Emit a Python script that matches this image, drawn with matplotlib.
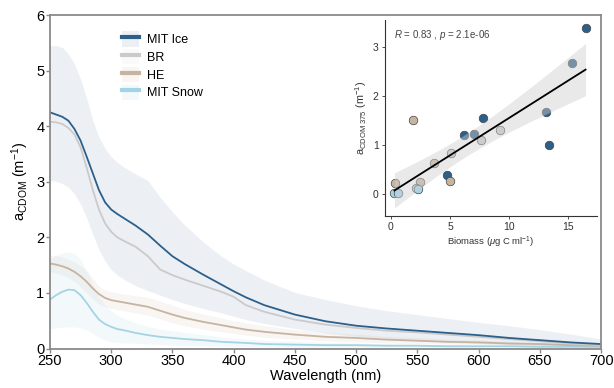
import numpy as np
import matplotlib
matplotlib.use("Agg")
import matplotlib.pyplot as plt
from matplotlib.patches import Patch
from matplotlib.lines import Line2D

plt.rcParams['font.family'] = ['Liberation Sans', 'DejaVu Sans']
plt.rcParams['mathtext.fontset'] = 'custom'
plt.rcParams['mathtext.rm'] = 'Liberation Sans'
plt.rcParams['mathtext.it'] = 'Liberation Sans:italic'

# ---- spectra (mean and ribbon) ----
wl = [250, 255, 260, 265, 270, 275, 280, 285, 290, 295, 300, 305, 310,
      320, 330, 340, 350, 360, 375, 390, 400, 410, 425, 450, 475, 500, 525, 550, 575, 600, 625, 650, 675, 700]

ice = [4.25, 4.21, 4.17, 4.10, 3.95, 3.74, 3.45, 3.15, 2.85, 2.63, 2.50, 2.42, 2.35,
       2.21, 2.05, 1.85, 1.66, 1.52, 1.33, 1.15, 1.03, 0.92, 0.78, 0.61, 0.49, 0.41, 0.36, 0.32, 0.28, 0.24, 0.19, 0.15, 0.11, 0.08]
ice_hi = [5.45, 5.45, 5.42, 5.30, 5.12, 4.85, 4.50, 4.10, 3.80, 3.60, 3.45, 3.35, 3.27,
          3.14, 3.02, 2.72, 2.46, 2.22, 1.92, 1.66, 1.52, 1.40, 1.23, 1.01, 0.88, 0.77, 0.68, 0.61, 0.54, 0.47, 0.41, 0.34, 0.26, 0.17]
ice_lo = [3.03, 3.01, 2.97, 2.90, 2.78, 2.60, 2.35, 2.05, 1.78, 1.57, 1.42, 1.32, 1.25,
          1.13, 1.04, 0.96, 0.88, 0.81, 0.72, 0.64, 0.58, 0.52, 0.45, 0.36, 0.28, 0.22, 0.18, 0.14, 0.11, 0.09, 0.07, 0.05, 0.03, 0.02]

br = [4.08, 4.07, 4.04, 3.97, 3.85, 3.62, 3.25, 2.85, 2.50, 2.25, 2.10, 2.00, 1.94,
      1.83, 1.66, 1.42, 1.32, 1.24, 1.13, 1.02, 0.93, 0.78, 0.66, 0.52, 0.43, 0.37, 0.32, 0.29, 0.25, 0.21, 0.17, 0.13, 0.09, 0.06]

he = [1.53, 1.51, 1.48, 1.44, 1.38, 1.30, 1.20, 1.08, 0.98, 0.91, 0.87, 0.85, 0.83,
      0.79, 0.75, 0.68, 0.61, 0.55, 0.48, 0.42, 0.38, 0.34, 0.30, 0.25, 0.21, 0.19, 0.16, 0.14, 0.12, 0.11, 0.09, 0.08, 0.06, 0.05]
he_hi = [1.68, 1.67, 1.65, 1.61, 1.56, 1.49, 1.40, 1.26, 1.12, 1.05, 1.02, 1.00, 0.98,
         0.95, 0.92, 0.85, 0.78, 0.70, 0.62, 0.55, 0.50, 0.46, 0.41, 0.34, 0.29, 0.26, 0.22, 0.20, 0.17, 0.15, 0.13, 0.11, 0.09, 0.07]
he_lo = [1.38, 1.35, 1.32, 1.27, 1.20, 1.11, 1.00, 0.89, 0.80, 0.75, 0.72, 0.70, 0.68,
         0.64, 0.60, 0.53, 0.46, 0.41, 0.35, 0.30, 0.27, 0.24, 0.20, 0.17, 0.14, 0.12, 0.10, 0.09, 0.08, 0.07, 0.06, 0.05, 0.04, 0.03]

snow = [0.88, 0.96, 1.02, 1.06, 1.05, 0.96, 0.82, 0.66, 0.52, 0.44, 0.39, 0.35, 0.33,
        0.28, 0.24, 0.21, 0.19, 0.17, 0.15, 0.12, 0.11, 0.10, 0.08, 0.07, 0.06, 0.06, 0.05, 0.05, 0.04, 0.04, 0.04, 0.03, 0.03, 0.03]
snow_hi = [1.62, 1.68, 1.72, 1.74, 1.72, 1.60, 1.40, 1.15, 0.92, 0.78, 0.68, 0.60, 0.55,
           0.46, 0.40, 0.35, 0.32, 0.29, 0.25, 0.21, 0.19, 0.17, 0.15, 0.13, 0.11, 0.10, 0.09, 0.08, 0.07, 0.07, 0.06, 0.06, 0.05, 0.05]
snow_lo = [0.35, 0.37, 0.38, 0.39, 0.39, 0.37, 0.33, 0.27, 0.20, 0.15, 0.12, 0.11, 0.10,
           0.09, 0.08, 0.07, 0.06, 0.05, 0.05, 0.04, 0.04, 0.03, 0.03, 0.02, 0.02, 0.02, 0.02, 0.02, 0.02, 0.02, 0.02, 0.02, 0.02, 0.02]

# ---- inset scatter: biomass vs aCDOM375 ----
ice_bio = [16.45, 13.33, 7.76, 6.19, 4.72, 15.27, 13.08, 7.03]
ice_a = [3.39, 1.01, 1.56, 1.20, 0.40, 2.66, 1.68, 1.22]
br_bio = [9.22, 7.62, 5.06]
br_a = [1.31, 1.10, 0.85]
he_bio = [5.00, 3.65, 1.83, 0.31, 2.47]
he_a = [0.28, 0.63, 1.51, 0.24, 0.25]
snow_bio = [2.10, 2.30, 0.30, 0.58]
snow_a = [0.14, 0.12, 0.03, 0.02]

c_ice, c_br, c_he, c_snow = '#2D5F8B', '#CACACA', '#C6B4A2', '#A3D4E5'

fig = plt.figure(figsize=(6.14, 3.88), dpi=100)
ax = fig.add_axes([0.0814, 0.1018, 0.8976, 0.8594])

ax.fill_between(wl, ice_lo, ice_hi, color=c_ice, alpha=0.09, lw=0)
ax.fill_between(wl, he_lo, he_hi, color=c_he, alpha=0.12, lw=0)
ax.fill_between(wl, snow_lo, snow_hi, color=c_snow, alpha=0.12, lw=0)
ax.plot(wl, snow, color=c_snow, lw=1.3)
ax.plot(wl, he, color=c_he, lw=1.3)
ax.plot(wl, br, color=c_br, lw=1.3)
ax.plot(wl, ice, color=c_ice, lw=1.3)

ax.set_xlim(250, 700)
ax.set_ylim(0, 6)
ax.set_xticks(range(250, 701, 50))
ax.set_yticks(range(0, 7))
for s in ax.spines.values():
    s.set_color('#8a8a8a')
    s.set_linewidth(1.3)
ax.tick_params(colors='#8a8a8a', labelcolor='black', labelsize=10.5, length=3, width=1, pad=1)
ax.set_xlabel('Wavelength (nm)', fontsize=10.5, labelpad=1)
ax.set_ylabel(r'a$_{\mathrm{CDOM}}$ (m$^{-1}$)', fontsize=10.5, labelpad=4)

handles = [
    (Patch(color=c_ice, alpha=0.09, lw=0), Line2D([], [], color=c_ice, lw=3)),
    (Patch(color=c_br, alpha=0.09, lw=0), Line2D([], [], color=c_br, lw=3)),
    (Patch(color=c_he, alpha=0.12, lw=0), Line2D([], [], color=c_he, lw=3)),
    (Patch(color=c_snow, alpha=0.12, lw=0), Line2D([], [], color=c_snow, lw=3)),
]
ax.legend(handles, ['MIT Ice', 'BR', 'HE', 'MIT Snow'], loc='upper left',
          bbox_to_anchor=(0.11, 0.985), frameon=False, fontsize=9,
          handlelength=1.4, handleheight=1.5, labelspacing=0.2, handletextpad=0.6)

# ---- inset ----
ins = fig.add_axes([0.627, 0.443, 0.345, 0.505])
groups = [(ice_bio, ice_a, c_ice), (br_bio, br_a, c_br), (he_bio, he_a, c_he), (snow_bio, snow_a, c_snow)]
for bx, by, c in groups:
    ins.scatter(bx, by, s=38, color=c, edgecolor='#444444', linewidth=0.5, zorder=2)

xall = np.array(ice_bio + br_bio + he_bio + snow_bio)
yall = np.array(ice_a + br_a + he_a + snow_a)
b, a = np.polyfit(xall, yall, 1)
xs = np.linspace(xall.min(), xall.max(), 100)
n = len(xall)
res = yall - (a + b * xall)
se = np.sqrt(np.sum(res ** 2) / (n - 2))
sxx = np.sum((xall - xall.mean()) ** 2)
band = 2.101 * se * np.sqrt(1 / n + (xs - xall.mean()) ** 2 / sxx)
ins.fill_between(xs, a + b * xs - band, a + b * xs + band, color='#CFCFCF', alpha=0.45, lw=0, zorder=3)
ins.plot(xs, a + b * xs, color='black', lw=1.3, zorder=4)

ins.text(0.3, 3.24, r'$R$ = 0.83 , $p$ = 2.1e-06', fontsize=7, color='#444444', va='center')
ins.set_xlim(-0.5, 17.4)
ins.set_ylim(-0.44, 3.54)
ins.set_xticks([0, 5, 10, 15])
ins.set_yticks([0, 1, 2, 3])
for k in ['top', 'right']:
    ins.spines[k].set_visible(False)
for k in ['left', 'bottom']:
    ins.spines[k].set_color('#333333')
    ins.spines[k].set_linewidth(0.8)
ins.tick_params(labelsize=7.5, colors='#333333', labelcolor='#333333', length=2.5, width=0.6, pad=2)
ins.set_xlabel(r'Biomass ($\mu$g C ml$^{-1}$)', fontsize=6.8, color='#333333', labelpad=2)
ins.set_ylabel(r'a$_{\mathrm{CDOM\ 375}}$ (m$^{-1}$)', fontsize=7.8, color='#333333', labelpad=3)

fig.savefig('out.png', dpi=100)
